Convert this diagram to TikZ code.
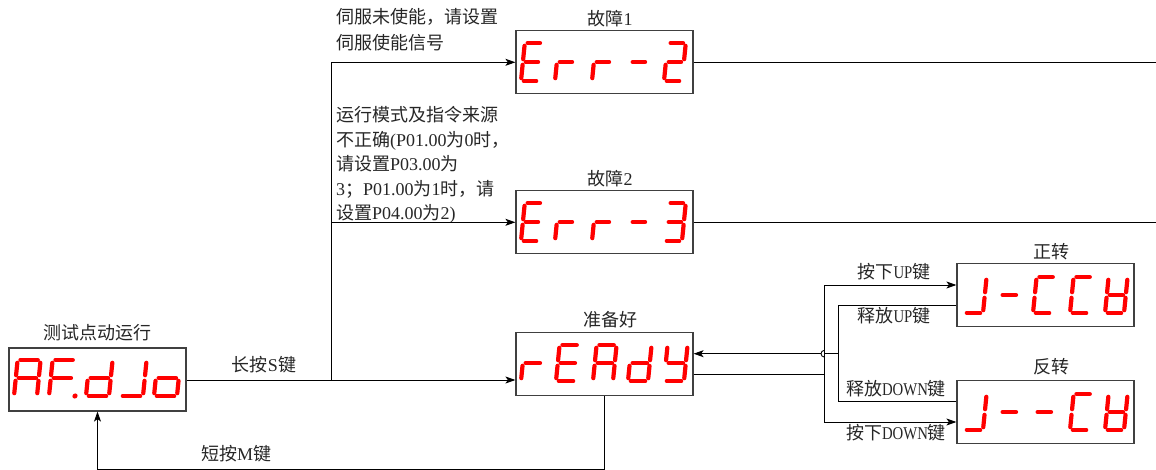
\documentclass[tikz,border=0pt]{standalone}
\usepackage{fontspec}
\setmainfont{Liberation Serif}
\newfontfamily\cjkf{Noto Sans CJK SC}
\newfontfamily\narrowlat[FakeStretch=0.82]{Liberation Serif}
\newcommand\zh[1]{{\cjkf #1}}
\usetikzlibrary{arrows.meta}
\newcommand\dig[2]{\begin{scope}[shift={(#1)},x=1pt,y=1pt,xslant=0.1]#2\end{scope}}
\newcommand\segA{\draw[segline] (\sg,\sh) -- ({\sw-\sg},\sh);}
\newcommand\segB{\draw[segline] (\sw,{\sh-\sg}) -- (\sw,{\sh/2+\sg});}
\newcommand\segC{\draw[segline] (\sw,{\sh/2-\sg}) -- (\sw,\sg);}
\newcommand\segD{\draw[segline] (\sg,0) -- ({\sw-\sg},0);}
\newcommand\segE{\draw[segline] (0,{\sh/2-\sg}) -- (0,\sg);}
\newcommand\segF{\draw[segline] (0,{\sh-\sg}) -- (0,{\sh/2+\sg});}
\newcommand\segG{\draw[segline] (\sg,{\sh/2}) -- ({\sw-\sg},{\sh/2});}
\newcommand\segP{\fill[red] ({\sw+3},0) circle[radius=2.6];}
\def\sg{2.8}
\begin{document}
\begin{tikzpicture}[x=1pt,y=-1pt,
  dispbox/.style={draw=black!75,line width=1.2pt,fill=white,minimum width=177pt,minimum height=63pt,inner sep=0pt},
  segline/.style={draw=red,line width=4.2pt,line cap=round},
  lbl/.style={inner sep=0pt,text=black!85,font=\fontsize{18}{21}\selectfont},
  conn/.style={draw=black,line width=0.9pt},
  arr/.style={conn,-{Stealth[length=10pt,width=7pt,inset=2.5pt]}}]
\useasboundingbox (0,0) rectangle (1156,470);

% boxes
\node[dispbox] (af) at (97.5,379.5) {};
\node[dispbox] (err2) at (604.5,62.3) {};
\node[dispbox] (err3) at (604.5,222.3) {};
\node[dispbox] (ready) at (604.5,364) {};
\node[dispbox] (jccw) at (1045.5,295.3) {};
\node[dispbox] (jcw) at (1045.5,411.7) {};

% digits AF.dJo
\def\sw{23}\def\sh{36}
\dig{14,396}{\segA\segB\segC\segE\segF\segG}
\dig{49,396}{\segA\segE\segF\segG\segP}
\dig{86,396}{\segB\segC\segD\segE\segG}
\dig{120,396}{\segB\segC\segD}
\dig{154,396}{\segC\segD\segE\segG}
% Err-2
\def\sw{18}\def\sh{38}
\dig{521,81}{\segA\segD\segE\segF\segG}
\dig{555,81}{\segE\segG}
\dig{592,81}{\segE\segG}
\dig{628,81}{\segG}
\dig{664,81}{\segA\segB\segG\segE\segD}
% Err-3
\dig{521,241}{\segA\segD\segE\segF\segG}
\dig{555,241}{\segE\segG}
\dig{592,241}{\segE\segG}
\dig{628,241}{\segG}
\dig{664,241}{\segA\segB\segG\segC\segD}
% rEAdy
\def\sw{20}\def\sh{36}
\dig{521,381}{\segE\segG}
\dig{556,381}{\segA\segD\segE\segF\segG}
\dig{593,381}{\segA\segB\segC\segE\segF\segG}
\dig{628,381}{\segB\segC\segD\segE\segG}
\dig{664,381}{\segB\segC\segD\segF\segG}
% J-CCW
\def\sw{19}\def\sh{36}
\dig{964,313}{\segB\segC\segD}
\dig{998,313}{\segG}
\dig{1033,313}{\segA\segD\segE\segF}
\dig{1070,313}{\segA\segD\segE\segF}
\dig{1105,313}{\segB\segC\segD\segE\segF\segG}
% J--CW
\dig{964,430}{\segB\segC\segD}
\dig{998,430}{\segG}
\dig{1033,430}{\segG}
\dig{1070,430}{\segA\segD\segE\segF}
\dig{1105,430}{\segB\segC\segD\segE\segF\segG}

% labels
\node[lbl] (tAF) at (97.5,333) {\zh{测试点动运行}};
\node[lbl] (tS) at (264,365) {\zh{长按}S\zh{键}};
\node[lbl] (tM) at (236,454) {\zh{短按}M\zh{键}};
\node[lbl] (t1) at (610,19) {\zh{故障}1};
\node[lbl] (t2) at (610,179) {\zh{故障}2};
\node[lbl] (tR) at (610,320) {\zh{准备好}};
\node[lbl] (tF) at (1051,252) {\zh{正转}};
\node[lbl] (tB) at (1051,367) {\zh{反转}};
\node[lbl] (tu1) at (894,272) {\zh{按下}{\narrowlat UP}\zh{键}};
\node[lbl] (tu2) at (894,316) {\zh{释放}{\narrowlat UP}\zh{键}};
\node[lbl] (td1) at (896,389) {\zh{释放}{\narrowlat DOWN}\zh{键}};
\node[lbl] (td2) at (896,433) {\zh{按下}{\narrowlat DOWN}\zh{键}};
\node[lbl,anchor=north west,align=left,font=\fontsize{18}{26}\selectfont] (n1) at (336,8)
  {\zh{伺服未使能，请设置}\\\zh{伺服使能信号}};
\node[lbl,anchor=north west,align=left,font=\fontsize{18}{24.5}\selectfont] (n2) at (336,106.5)
  {\zh{运行模式及指令来源}\\\zh{不正确}(P01.00\zh{为}0\zh{时，}\\\zh{请设置}P03.00\zh{为}\\3\zh{；}P01.00\zh{为}1\zh{时，请}\\\zh{设置}P04.00\zh{为}2)};

% connectors left
\coordinate (bx) at (331,380);
\draw[arr] (af.east |- bx) -- (ready.west |- bx);
\draw[arr] (bx) |- (err2.west);
\draw[arr] (bx |- err3.west) -- (err3.west);
\coordinate (e2r) at (1156,62.3);
\coordinate (e3r) at (1156,222.3);
\draw[conn] (err2.east) -- (e2r);
\draw[conn] (err3.east) -- (e3r);
\coordinate (bot) at (604.5,469);
\draw[arr] (ready.south) -- (bot) -| (af.south);

% connectors right
\coordinate (ri) at ([yshift=10.3pt]ready.east);
\coordinate (ro) at ([yshift=-10.7pt]ready.east);
\coordinate (c1i) at ([yshift=10.3pt]jccw.west);
\coordinate (c1o) at ([yshift=-10.4pt]jccw.west);
\coordinate (c2o) at ([yshift=10.7pt]jcw.west);
\coordinate (c2i) at ([yshift=-10.3pt]jcw.west);
\coordinate (ox) at (824.3,0);
\coordinate (ix) at (838.3,0);
\coordinate (oj) at (ox |- ro);
\coordinate (ij) at (ix |- ri);
\coordinate (hop) at (ox |- ri);
\draw[conn] (ro) -- (oj);
\draw[arr] (oj) |- (c1i);
\draw[arr] (oj) |- (c2i);
\draw[conn] (c1o) -| (ij);
\draw[conn] (c2o) -| (ij);
\draw[conn] (ij) -- (hop);
\draw[conn] ([yshift=3.3pt]hop) arc[start angle=90,end angle=270,radius=3.3pt];
\draw[arr] ([xshift=-3.3pt]hop) -- (ri);
\end{tikzpicture}
\end{document}
